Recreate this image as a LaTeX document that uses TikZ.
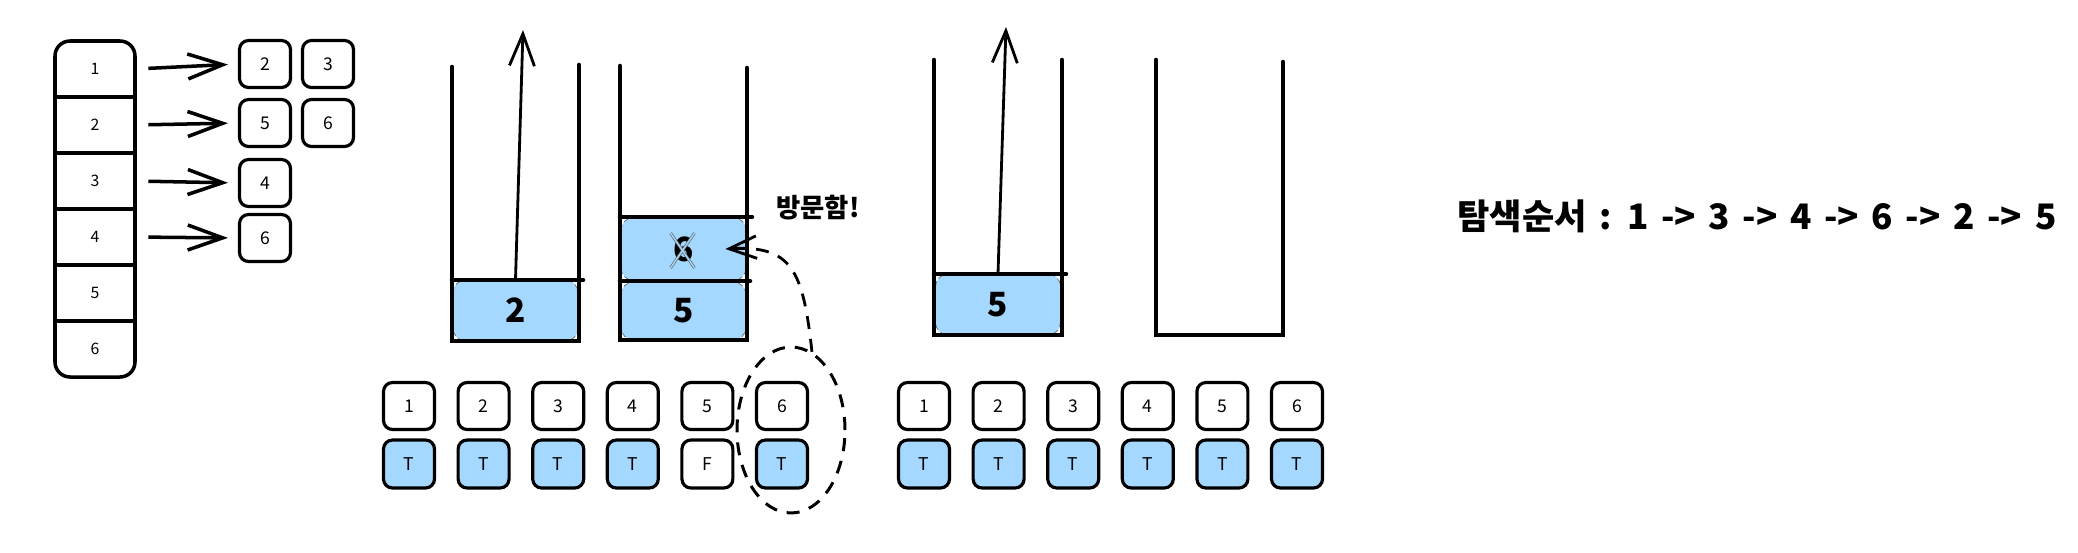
\documentclass[tikz,border=0pt]{standalone}
\usepackage{fontspec}
\setmainfont{Noto Sans CJK KR}
\usetikzlibrary{arrows.meta,positioning,shapes.geometric,calc}
\definecolor{visitblue}{HTML}{A5D8FF}

\begin{document}
\begin{tikzpicture}[
        x=0.02cm, y=-0.02cm,
        cell/.style={minimum width=1.6cm, minimum height=1.12cm, inner sep=0pt,
            font=\fontsize{9}{11}\selectfont},
        adjbox/.style={rectangle, draw, line width=1.8pt, rounded corners=0.18cm,
            minimum width=1.02cm, minimum height=0.94cm, inner sep=0pt,
            font=\fontsize{10}{12}\selectfont},
        flagbox/.style={adjbox, minimum height=0.96cm},
        stackbox/.style={rectangle, fill=visitblue, rounded corners=0.25cm, draw=black!60,
            densely dashed, line width=0.4pt, minimum width=2.5cm, inner sep=0pt,
            font=\fontsize{19}{21}\selectfont\bfseries},
        wall/.style={line width=2.6pt, line cap=round},
        pointer/.style={-{Straight Barb[length=0.7cm, width=0.5cm]}, line width=2pt},
        popout/.style={-{Straight Barb[length=0.64cm, width=0.5cm]}, line width=1.6pt},
        recall/.style={-{Straight Barb[length=0.55cm, width=0.45cm]}, line width=1.6pt,
            dash pattern=on 0.26cm off 0.2cm},
    ]
        \useasboundingbox (0,0) rectangle (2078,552);

        % Adjacency list
        \draw[line width=2pt, rounded corners=0.3cm] (55,41) rectangle (135,377);
        \foreach \y in {97,153,209,265,321}
            \draw[line width=2.2pt] (55,\y) -- (135,\y);
        \foreach \i in {1,...,6}
            \node[cell] (row\i) at (95,{13+56*\i}) {\i};

        \node[adjbox] (a12) at (265,64) {2};
        \node[adjbox] (a13) at (328,64) {3};
        \node[adjbox] (a25) at (265,123) {5};
        \node[adjbox] (a26) at (328,123) {6};
        \node[adjbox] (a34) at (265,183) {4};
        \node[adjbox] (a46) at (265,238) {6};

        \draw[pointer, shorten <=0.26cm, shorten >=0.2cm] (row1.east) -- (a12.west);
        \draw[pointer, shorten <=0.26cm, shorten >=0.2cm] (row2.east) -- (a25.west);
        \draw[pointer, shorten <=0.26cm, shorten >=0.2cm] (row3.east) -- (a34.west);
        \draw[pointer, shorten <=0.26cm, shorten >=0.2cm] (row4.east) -- (a46.west);

        % Stack 1
        \node[stackbox, minimum height=1.22cm] (s1two) at (515.5,310.5) {2};
        \draw[wall] (452,67) -- (452,341) -- (579,341) -- (579,65);
        \draw[wall] (452,280) -- (583,280);
        \coordinate (s1out) at (523,30);
        \draw[popout] (s1two.north) -- (s1out);

        % Stack 2
        \node[stackbox, minimum height=1.16cm] (s2five) at (683.5,311) {5};
        \node[stackbox, minimum height=1.26cm] (s2six) at (683.5,249) {6};
        \draw[black!60, line width=0.4pt, double=visitblue, double distance=0.8pt]
            ($(s2six.center)+(-13,-16)$) -- ($(s2six.center)+(11,19)$)
            ($(s2six.center)+(11,-16)$) -- ($(s2six.center)+(-13,19)$);
        \draw[wall] (620,66) -- (620,340) -- (747,340) -- (747,68);
        \draw[wall] (620,217) -- (752,217);
        \draw[wall] (620,281) -- (750,281);

        % Stack 3
        \node[stackbox, minimum height=1.22cm] (s3five) at (998,304.5) {5};
        \draw[wall] (934,60) -- (934,335) -- (1062,335) -- (1062,60);
        \draw[wall] (934,274) -- (1066,274);
        \coordinate (s3out) at (1006,27);
        \draw[popout] (s3five.north) -- (s3out);

        % Stack 4
        \draw[wall] (1156,60) -- (1156,335) -- (1283,335) -- (1283,62);

        % Visited tables
        \foreach \i/\f/\t in {1/visitblue/T,2/visitblue/T,3/visitblue/T,
                4/visitblue/T,5/white/F,6/visitblue/T} {
            \node[adjbox] (v\i) at ({409+74.6*(\i-1)},406) {\i};
            \node[flagbox, fill=\f] (f\i) at ({409+74.6*(\i-1)},464) {\t};
        }
        \foreach \i in {1,...,6} {
            \node[adjbox] (w\i) at ({924+74.6*(\i-1)},406) {\i};
            \node[flagbox, fill=visitblue] (g\i) at ({924+74.6*(\i-1)},464) {T};
        }

        % Visited mark
        \node[ellipse, draw, line width=1.7pt, dash pattern=on 0.26cm off 0.2cm,
            minimum width=2.16cm, minimum height=3.32cm] (seen) at (791,430) {};
        \draw[recall] (seen.75) .. controls (803,270) and (792,245) .. ([xshift=-0.42cm]s2six.east);
        \node[font=\fontsize{15}{18}\selectfont\bfseries] (visited) at (818,208) {방문함!};

        % Search order
        \node[font=\fontsize{20}{24}\selectfont\bfseries] (order) at (1757,216)
            {\spaceskip=0.36em plus 0.1em\relax 탐색순서 : 1 -> 3 -> 4 -> 6 -> 2 -> 5};
    \end{tikzpicture}
\end{document}
